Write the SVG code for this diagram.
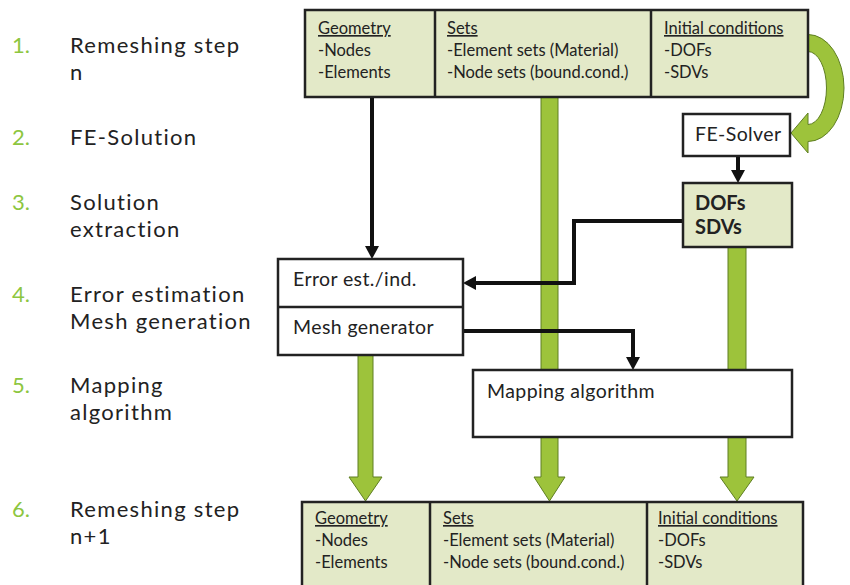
<svg xmlns="http://www.w3.org/2000/svg" width="850" height="585" viewBox="0 0 850 585">
<style>
text{font-family:Lato,"Open Sans","Liberation Sans",sans-serif;fill:#222}
.num{font-size:22px;fill:#8dc63f}
.lbl{font-size:22px;letter-spacing:1.3px}
.t{font-size:16.5px}
.u{text-decoration:underline}
.h{font-size:19.5px;letter-spacing:0.4px}
.b{font-size:20px;font-weight:bold}
.box{fill:#e3e9c8;stroke:#222;stroke-width:2.5}
.wbox{fill:#fff;stroke:#222;stroke-width:2.5}
.g{fill:#9dc33b;stroke:#5f7f22;stroke-width:1}
.k{fill:none;stroke:#111;stroke-width:4}
.kh{fill:#111}
</style>
<g id="steps">
<text class="num" x="12" y="53">1.</text><text class="lbl" x="70" y="53">Remeshing step</text><text class="lbl" x="70" y="80">n</text>
<text class="num" x="12" y="145">2.</text><text class="lbl" x="70" y="145">FE-Solution</text>
<text class="num" x="12" y="210">3.</text><text class="lbl" x="70" y="210">Solution</text><text class="lbl" x="70" y="237">extraction</text>
<text class="num" x="12" y="302">4.</text><text class="lbl" x="70" y="302">Error estimation</text><text class="lbl" x="70" y="329">Mesh generation</text>
<text class="num" x="12" y="393">5.</text><text class="lbl" x="70" y="393">Mapping</text><text class="lbl" x="70" y="420">algorithm</text>
<text class="num" x="12" y="517">6.</text><text class="lbl" x="70" y="517">Remeshing step</text><text class="lbl" x="70" y="544">n+1</text>
</g>
<g id="connectors">
<path class="g" d="M541 97 L558 97 L558 477 L565 477 L549.5 501 L534 477 L541 477 Z"/>
<path class="g" d="M358 355 L373 355 L373 477 L382 477 L365.5 501 L349 477 L358 477 Z"/>
<path class="g" d="M728 247 L746 247 L746 477 L754 477 L737 501 L720 477 L728 477 Z"/>
<path class="g" d="M808 34.5 A36 53.5 0 0 1 808 141.5 L808 153 L791 133 L808 113 L808 124.5 A18.5 36.5 0 0 0 808 51.5 Z"/>
<path class="k" d="M372 98 L372 248"/>
<path class="kh" d="M365 246 L379 246 L372 259 Z"/>
<path class="k" d="M738 156 L738 172"/>
<path class="kh" d="M731 170 L745 170 L738 183 Z"/>
<path class="k" d="M683 221 L574 221 L574 283 L474 283"/>
<path class="kh" d="M476 276 L476 290 L463 283 Z"/>
<path class="k" d="M463 331 L633 331 L633 359"/>
<path class="kh" d="M626 357 L640 357 L633 370 Z"/>
</g>
<g id="top-model">
<rect class="box" x="305" y="10" width="503" height="87"/>
<line x1="435" y1="10" x2="435" y2="97" stroke="#222" stroke-width="2.5"/>
<line x1="651" y1="10" x2="651" y2="97" stroke="#222" stroke-width="2.5"/>
<text class="t u" x="318" y="34">Geometry</text><text class="t" x="318" y="56">-Nodes</text><text class="t" x="318" y="78">-Elements</text>
<text class="t u" x="447" y="34">Sets</text><text class="t" x="447" y="56">-Element sets (Material)</text><text class="t" x="447" y="78">-Node sets (bound.cond.)</text>
<text class="t u" x="664" y="34">Initial conditions</text><text class="t" x="664" y="56">-DOFs</text><text class="t" x="664" y="78">-SDVs</text>
</g>
<g id="fe-solver">
<rect class="wbox" x="683" y="114" width="107" height="42"/>
<text class="h" x="695" y="141">FE-Solver</text>
</g>
<g id="solution">
<rect class="box" x="683" y="183" width="109" height="64"/>
<text class="b" x="695" y="210">DOFs</text><text class="b" x="695" y="234">SDVs</text>
</g>
<g id="error-mesh">
<rect class="wbox" x="278" y="259" width="185" height="96"/>
<line x1="278" y1="307" x2="463" y2="307" stroke="#222" stroke-width="2.5"/>
<text class="h" x="293" y="286">Error est./ind.</text>
<text class="h" x="293" y="334">Mesh generator</text>
</g>
<g id="mapping">
<rect class="wbox" x="473" y="370" width="319" height="67"/>
<text class="h" x="487" y="398">Mapping algorithm</text>
</g>
<g id="bottom-model">
<rect class="box" x="302" y="502" width="501" height="95"/>
<line x1="430" y1="502" x2="430" y2="585" stroke="#222" stroke-width="2.5"/>
<line x1="647" y1="502" x2="647" y2="585" stroke="#222" stroke-width="2.5"/>
<text class="t u" x="315" y="524">Geometry</text><text class="t" x="315" y="546">-Nodes</text><text class="t" x="315" y="568">-Elements</text>
<text class="t u" x="443" y="524">Sets</text><text class="t" x="443" y="546">-Element sets (Material)</text><text class="t" x="443" y="568">-Node sets (bound.cond.)</text>
<text class="t u" x="658" y="524">Initial conditions</text><text class="t" x="658" y="546">-DOFs</text><text class="t" x="658" y="568">-SDVs</text>
</g>
</svg>
